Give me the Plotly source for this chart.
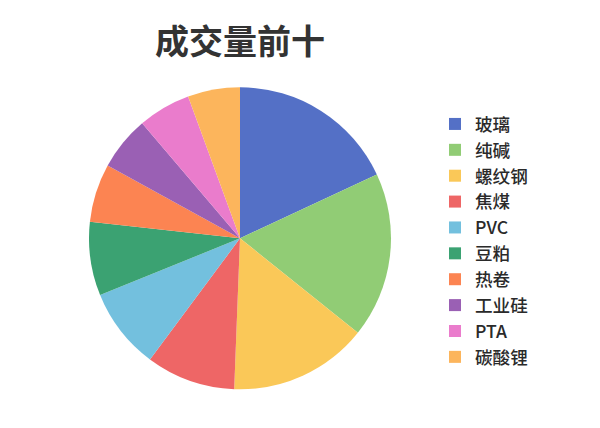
import plotly.graph_objects as go

categories = ["玻璃", "纯碱", "螺纹钢", "焦煤", "PVC", "豆粕", "热卷", "工业硅", "PTA", "碳酸锂"]
values = [650, 637, 535, 344, 313, 284, 225, 208, 203, 201]
colors = ["#5470c6", "#91cc75", "#fac858", "#ee6666", "#73c0de",
          "#3ba272", "#fc8452", "#9a60b4", "#ea7ccc", "#fcb55c"]

W, H = 600, 428
cx, cy, r = 240, 238.3, 151

fig = go.Figure(go.Pie(
    labels=categories,
    values=values,
    sort=False,
    direction="clockwise",
    rotation=0,
    marker=dict(colors=colors, line=dict(width=0)),
    textinfo="none",
    hoverinfo="label+value+percent",
    domain=dict(x=[(cx - r) / W, (cx + r) / W],
                y=[(H - cy - r) / H, (H - cy + r) / H]),
))

fig.update_layout(
    width=W, height=H,
    margin=dict(l=0, r=0, t=0, b=0),
    paper_bgcolor="white",
    plot_bgcolor="white",
    font=dict(family="Noto Sans CJK SC", color="#333333"),
    title=dict(text="成交量前十", x=cx / W, xanchor="center",
               y=1 - 42 / H, yanchor="middle",
               font=dict(size=34, color="#333333", family="Noto Sans CJK SC", weight=700)),
    legend=dict(x=435 / W, xanchor="left", y=1 - 106 / H, yanchor="top",
                font=dict(size=17.6, color="#2a2a2a", family="Noto Sans CJK SC", weight=500),
                bgcolor="rgba(0,0,0,0)", itemclick=False),
)

fig.write_html("out.html", config={"displayModeBar": False},
               post_script="document.body.style.margin='0px';")
